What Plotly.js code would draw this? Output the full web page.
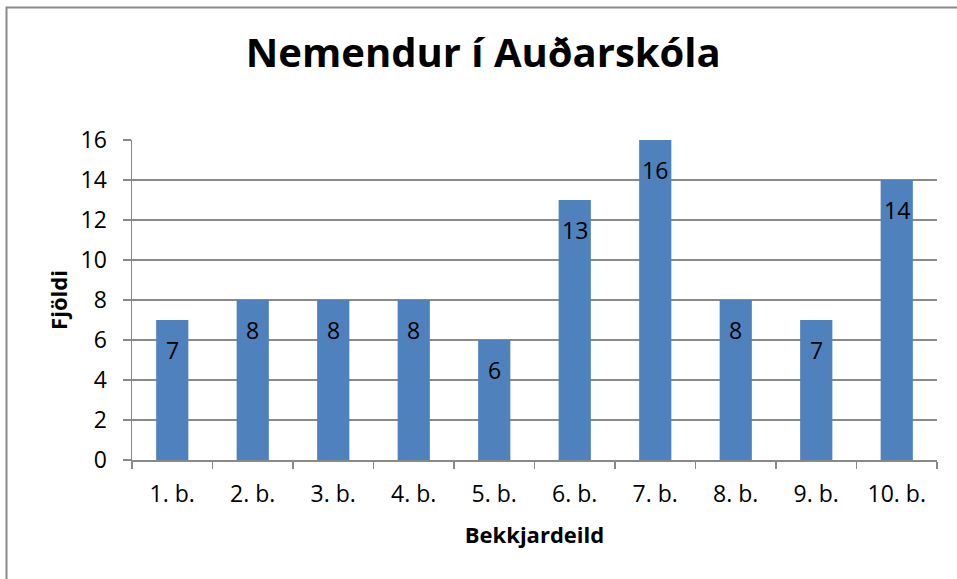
<!DOCTYPE html>
<html>
<head>
<meta charset="utf-8">
<script src="https://cdn.plot.ly/plotly-3.0.1.min.js"></script>
<style>html,body{margin:0;padding:0;background:#fff;}#chart{width:957px;height:579px;}</style>
</head>
<body>
<div id="chart"></div>
<script>
const categories = ["1. b.", "2. b.", "3. b.", "4. b.", "5. b.", "6. b.", "7. b.", "8. b.", "9. b.", "10. b."];
const students = [7, 8, 8, 8, 6, 13, 16, 8, 7, 14];
const yTicks = [0, 2, 4, 6, 8, 10, 12, 14, 16];
const titleText = "Nemendur í Auðarskóla";
const xTitle = "Bekkjardeild";
const yTitle = "Fjöldi";

const FONT = "Open Sans, sans-serif";
const GRAY = "#898989";
const L = 132, R = 20, T = 140, B = 119, W = 957, H = 579;
const pw = W - L - R, ph = H - T - B;

const trace = {
  type: "bar",
  x: categories,
  y: students,
  marker: {color: "#4F81BD"},
  hoverinfo: "none"
};

const labels = categories.map((c, i) => ({
  x: c, y: students[i], xref: "x", yref: "y",
  text: String(students[i]), showarrow: false,
  yanchor: "middle", yshift: -30,
  font: {family: FONT, size: 23, color: "#000"}
}));

const layout = {
  width: W, height: H,
  margin: {l: L, r: R, t: T, b: B, pad: 0},
  paper_bgcolor: "#fff", plot_bgcolor: "#fff",
  bargap: 0.6,
  showlegend: false,
  title: {
    text: "<b>" + titleText + "</b>",
    font: {family: FONT, size: 40, color: "#000"},
    xref: "container", x: 0.505, xanchor: "center",
    yref: "container", y: 1 - 53 / H, yanchor: "middle"
  },
  xaxis: {
    type: "category",
    tickson: "boundaries",
    ticks: "outside", ticklen: 7, tickwidth: 1.5, tickcolor: GRAY,
    showline: true, linecolor: GRAY, linewidth: 1.5,
    showgrid: false, zeroline: false,
    tickfont: {family: FONT, size: 23, color: "#000"},
    ticklabelstandoff: 13,
    title: {text: "<b>" + xTitle + "</b>", font: {family: FONT, size: 22, color: "#000"}, standoff: 19}
  },
  yaxis: {
    range: [0, 16],
    tickvals: yTicks,
    ticktext: yTicks.map(String),
    ticks: "outside", ticklen: 8, tickwidth: 1.5, tickcolor: GRAY,
    showline: true, linecolor: GRAY, linewidth: 1.5,
    showgrid: true, gridcolor: GRAY, gridwidth: 1.5,
    zeroline: false,
    tickfont: {family: FONT, size: 23, color: "#000"},
    ticklabelstandoff: 11,
    title: {text: "<b>" + yTitle + "</b>", font: {family: FONT, size: 22, color: "#000"}, standoff: 7}
  },
  annotations: labels,
  shapes: [{
    type: "rect", xref: "paper", yref: "paper",
    x0: (6.5 - L) / pw, x1: (W + 10 - L) / pw,
    y0: -(H + 10 - (H - B)) / ph, y1: ((H - B) - 7.5) / ph,
    line: {color: GRAY, width: 2}, fillcolor: "rgba(0,0,0,0)", layer: "above"
  }]
};

Plotly.newPlot("chart", [trace], layout, {displayModeBar: false, staticPlot: true});
</script>
</body>
</html>
